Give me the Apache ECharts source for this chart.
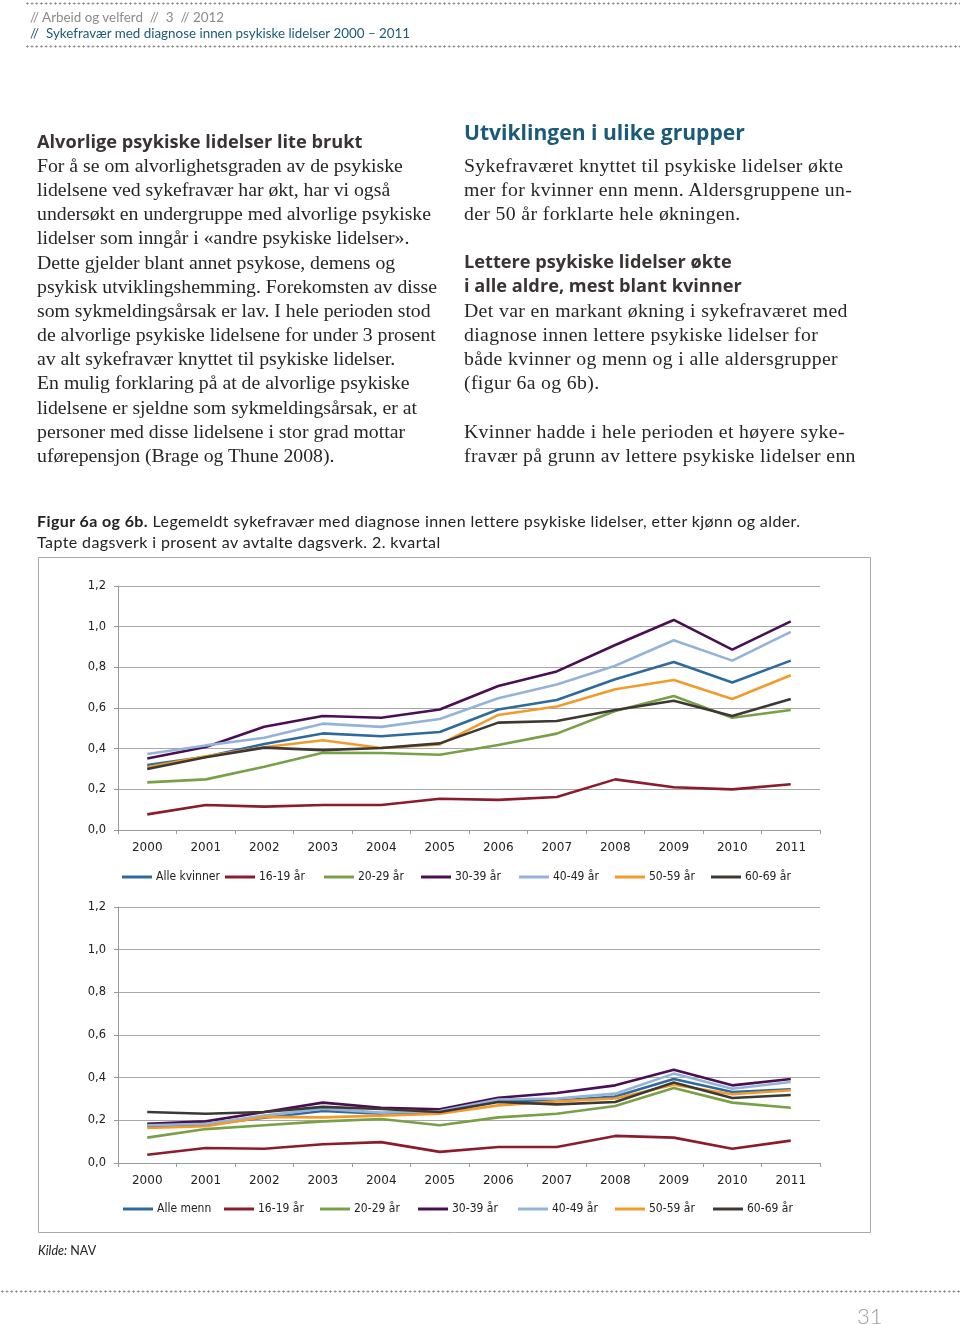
<!DOCTYPE html>
<html>
<head>
<meta charset="utf-8">
<script src="https://cdn.jsdelivr.net/npm/echarts@6/dist/echarts.min.js"></script>
<style>
  html, body { margin: 0; padding: 0; background: #fff; }
  body { width: 960px; height: 1324px; position: relative; overflow: hidden; }
  #chart { position: absolute; left: 0; top: 0; width: 960px; height: 1324px; z-index: 1; }
  .t { position: absolute; white-space: nowrap; z-index: 2; }
  .dots { position: absolute; height: 3px; z-index: 2;
    background-image: radial-gradient(circle, #8a8a8a 0.9px, rgba(255,255,255,0) 1.2px);
    background-size: 4.7px 3px; background-repeat: repeat-x; }
  .body { font-family: 'Liberation Serif', 'Times New Roman', serif; font-size: 19.75px; color: #262626; line-height: 24.15px; }
  .bodyR { letter-spacing: 0.36px; }
  .h2 { font-family: 'Open Sans', 'Lato', sans-serif; font-weight: 700; font-size: 18.2px; color: #3b3333; line-height: 24.15px; }
  .h1 { font-family: 'Open Sans', 'Lato', sans-serif; font-weight: 700; font-size: 21.1px; color: #1b5a78; line-height: 28px; }
  .cap { font-family: 'Lato', sans-serif; font-size: 16px; letter-spacing: 0.4px; color: #222; line-height: 21px; }
</style>
</head>
<body>
<div id="chart"></div>

<div class="dots" style="left:25px; top:2px; width:935px;"></div>
<div class="t" style="left:30px; top:9px; font-family:Lato, sans-serif; font-size:13.4px; color:#8a8a8a; line-height:16px;">// Arbeid og velferd&nbsp; // &nbsp;3 &nbsp;// 2012</div>
<div class="t" style="left:30px; top:25px; font-family:Lato, sans-serif; font-size:13.4px; color:#1b5a78; line-height:16px;">// &nbsp;Sykefravær med diagnose innen psykiske lidelser 2000 – 2011</div>
<div class="dots" style="left:25px; top:45px; width:935px;"></div>

<div class="t h2" style="left:37px; top:129px;">Alvorlige psykiske lidelser lite brukt</div>
<div class="t body" style="left:37px; top:153px;">For å se om alvorlighetsgraden av de psykiske<br>lidelsene ved sykefravær har økt, har vi også<br>undersøkt en undergruppe med alvorlige psykiske<br>lidelser som inngår i «andre psykiske lidelser».<br>Dette gjelder blant annet psykose, demens og<br>psykisk utviklingshemming. Forekomsten av disse<br>som sykmeldingsårsak er lav. I hele perioden stod<br>de alvorlige psykiske lidelsene for under 3 prosent<br>av alt sykefravær knyttet til psykiske lidelser.<br>En mulig forklaring på at de alvorlige psykiske<br>lidelsene er sjeldne som sykmeldingsårsak, er at<br>personer med disse lidelsene i stor grad mottar<br>uførepensjon (Brage og Thune 2008).</div>

<div class="t h1" style="left:464px; top:118px;">Utviklingen i ulike grupper</div>
<div class="t body bodyR" style="left:464px; top:153px;">Sykefraværet knyttet til psykiske lidelser økte<br>mer for kvinner enn menn. Aldersgruppene un-<br>der 50 år forklarte hele økningen.</div>
<div class="t h2" style="left:464px; top:249px;">Lettere psykiske lidelser økte<br>i alle aldre, mest blant kvinner</div>
<div class="t body bodyR" style="left:464px; top:298px;">Det var en markant økning i sykefraværet med<br>diagnose innen lettere psykiske lidelser for<br>både kvinner og menn og i alle aldersgrupper<br>(figur 6a og 6b).<br>&nbsp;<br>Kvinner hadde i hele perioden et høyere syke-<br>fravær på grunn av lettere psykiske lidelser enn</div>

<div class="t cap" style="left:37px; top:510px;"><b>Figur 6a og 6b.</b> Legemeldt sykefravær med diagnose innen lettere psykiske lidelser, etter kjønn og alder.<br>Tapte dagsverk i prosent av avtalte dagsverk. 2. kvartal</div>

<div class="t" style="left:38px; top:1243px; font-family:Lato, sans-serif; font-size:12.5px; color:#222;"><i>Kilde:</i> NAV</div>
<div class="dots" style="left:0px; top:1290px; width:960px;"></div>
<div class="t" style="left:857px; top:1302px; font-family:Lato, sans-serif; font-weight:300; font-size:22px; color:#9a9a9a;">31</div>

<script>
// ---- data ----
const years = ['2000','2001','2002','2003','2004','2005','2006','2007','2008','2009','2010','2011'];
const yTicks = [0, 0.2, 0.4, 0.6, 0.8, 1.0, 1.2];

const namesA = ['Alle kvinner','16-19 år','20-29 år','30-39 år','40-49 år','50-59 år','60-69 år'];
const namesB = ['Alle menn','16-19 år','20-29 år','30-39 år','40-49 år','50-59 år','60-69 år'];

// Women (figure 6a)
const kAlle  = [0.320, 0.360, 0.423, 0.475, 0.461, 0.482, 0.593, 0.639, 0.741, 0.826, 0.725, 0.833];
const k1619  = [0.077, 0.123, 0.115, 0.123, 0.123, 0.154, 0.148, 0.162, 0.249, 0.210, 0.200, 0.225];
const k2029  = [0.234, 0.249, 0.311, 0.380, 0.379, 0.370, 0.418, 0.474, 0.585, 0.659, 0.552, 0.590];
const k3039  = [0.352, 0.408, 0.508, 0.561, 0.552, 0.593, 0.708, 0.780, 0.910, 1.033, 0.887, 1.026];
const k4049  = [0.374, 0.416, 0.454, 0.523, 0.507, 0.546, 0.648, 0.716, 0.808, 0.933, 0.833, 0.974];
const k5059  = [0.308, 0.362, 0.407, 0.441, 0.403, 0.421, 0.566, 0.607, 0.692, 0.738, 0.644, 0.761];
const k6069  = [0.300, 0.358, 0.405, 0.393, 0.403, 0.426, 0.528, 0.536, 0.590, 0.636, 0.561, 0.644];

// Men (figure 6b)
const mAlle  = [0.172, 0.180, 0.212, 0.244, 0.231, 0.239, 0.290, 0.292, 0.312, 0.394, 0.333, 0.345];
const m1619  = [0.039, 0.070, 0.067, 0.088, 0.098, 0.052, 0.075, 0.075, 0.127, 0.119, 0.067, 0.105];
const m2029  = [0.119, 0.159, 0.177, 0.195, 0.206, 0.177, 0.214, 0.231, 0.267, 0.352, 0.283, 0.259];
const m3039  = [0.184, 0.195, 0.239, 0.283, 0.259, 0.252, 0.306, 0.328, 0.364, 0.437, 0.364, 0.394];
const m4049  = [0.177, 0.184, 0.222, 0.255, 0.236, 0.244, 0.298, 0.302, 0.325, 0.419, 0.348, 0.380];
const m5059  = [0.164, 0.172, 0.216, 0.214, 0.222, 0.231, 0.270, 0.289, 0.302, 0.367, 0.322, 0.341];
const m6069  = [0.239, 0.231, 0.239, 0.263, 0.253, 0.239, 0.286, 0.275, 0.286, 0.377, 0.305, 0.319];

// ---- styles / layout ----
const colors = ['#2f6a9c', '#8c1b2c', '#78a046', '#4a0f52', '#93b3d8', '#f29b2c', '#3e3834'];
const legendLeftA = [122, 225, 324, 421, 519, 615, 711];
const legendLeftB = [123, 224, 320, 418, 518, 615, 713];
const axisFont = 'DejaVu Sans, Verdana, sans-serif';
const legendFont = "'DejaVu Sans Condensed', 'Liberation Sans Narrow', Lato, sans-serif";

const seriesA = [kAlle, k1619, k2029, k3039, k4049, k5059, k6069];
const seriesB = [mAlle, m1619, m2029, m3039, m4049, m5059, m6069];

function fmt(v) { return v.toFixed(1).replace('.', ','); }

function xAxis(gi) {
  return {
    type: 'category', gridIndex: gi, data: years, boundaryGap: true,
    axisLine: { show: true, lineStyle: { color: '#9a9a9a', width: 1 } },
    axisTick: { show: true, length: 4, lineStyle: { color: '#9a9a9a' } },
    axisLabel: { color: '#222', fontFamily: axisFont, fontSize: 12, margin: 12 },
    splitLine: { show: false }
  };
}
function yAxis(gi) {
  return {
    type: 'value', gridIndex: gi, min: yTicks[0], max: yTicks[yTicks.length - 1], interval: 0.2,
    axisLine: { show: true, lineStyle: { color: '#9a9a9a', width: 1 } },
    axisTick: { show: true, length: 4, lineStyle: { color: '#9a9a9a' } },
    axisLabel: { color: '#222', fontFamily: axisFont, fontSize: 11.5, margin: 12, formatter: fmt },
    splitLine: { show: true, lineStyle: { color: '#a8a8a8', width: 1 } }
  };
}

const series = [];
seriesA.forEach((d, i) => series.push({
  name: namesA[i], type: 'line', xAxisIndex: 0, yAxisIndex: 0, data: d,
  symbol: 'none', smooth: false, color: colors[i],
  lineStyle: { width: 2.6, color: colors[i] }, z: 2 + i, animation: false
}));
seriesB.forEach((d, i) => series.push({
  name: namesB[i], type: 'line', xAxisIndex: 1, yAxisIndex: 1, data: d,
  symbol: 'none', smooth: false, color: colors[i],
  lineStyle: { width: 2.6, color: colors[i] }, z: 2 + i, animation: false
}));

const legends = [];
function addLegends(names, lefts, top) {
  names.forEach((n, i) => legends.push({
    data: [n], left: lefts[i], top: top, padding: 0, orient: 'horizontal',
    icon: 'rect', itemWidth: 30, itemHeight: 3,
    itemStyle: { color: colors[i] },
    textStyle: { color: '#222', fontFamily: legendFont, fontSize: 12, padding: [0, 0, 0, -1] },
    selectedMode: false
  }));
}
addLegends(namesA, legendLeftA, 871);
addLegends(namesB, legendLeftB, 1203);

const chart = echarts.init(document.getElementById('chart'), null, { renderer: 'canvas' });
chart.setOption({
  animation: false,
  backgroundColor: 'transparent',
  grid: [
    { left: 118, top: 586, width: 702, height: 244, containLabel: false },
    { left: 118, top: 907, width: 702, height: 256, containLabel: false }
  ],
  xAxis: [xAxis(0), xAxis(1)],
  yAxis: [yAxis(0), yAxis(1)],
  legend: legends,
  series: series,
  graphic: [{
    type: 'rect', shape: { x: 38.5, y: 557.5, width: 832, height: 675 },
    style: { fill: 'none', stroke: '#a9a9a9', lineWidth: 1 }, z: 0, silent: true
  }]
});
</script>
</body>
</html>
